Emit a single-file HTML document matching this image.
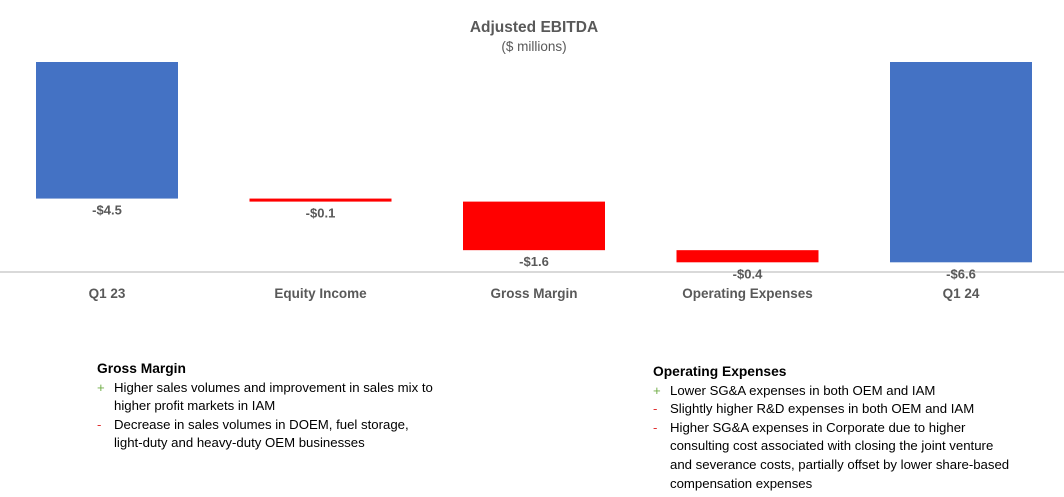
<!DOCTYPE html>
<html><head><meta charset="utf-8"><style>
body{margin:0;width:1064px;height:497px;background:#fff;position:relative;overflow:hidden;font-family:"Liberation Sans",sans-serif}
.note{position:absolute;font-size:13.2px;color:#000;line-height:18.6px;white-space:nowrap}
.note b{font-size:13.8px}
.row{position:relative;padding-left:17px}
.row span.m{position:absolute;left:0}
.plus{color:#70ad47}.minus{color:#e03030}
</style></head><body>
<svg id="chart" width="1064" height="320" style="position:absolute;left:0;top:0">
<text x="534" y="32" text-anchor="middle" font-family="Liberation Sans" font-weight="bold" font-size="15.5" fill="#595959">Adjusted EBITDA</text>
<text x="534" y="51" text-anchor="middle" font-family="Liberation Sans" font-size="13.5" fill="#595959">($ millions)</text>
<line x1="0" x2="1064" y1="272" y2="272" stroke="#d9d9d9" stroke-width="2"/>
<g id="bars"></g>
</svg>
<div class="note" style="left:97px;top:360px">
<b>Gross Margin</b>
<div class="row"><span class="m plus">+</span>Higher sales volumes and improvement in sales mix to<br>higher profit markets in IAM</div>
<div class="row"><span class="m minus">-</span>Decrease in sales volumes in DOEM, fuel storage,<br>light-duty and heavy-duty OEM businesses</div>
</div>
<div class="note" style="left:653px;top:363px">
<b>Operating Expenses</b>
<div class="row"><span class="m plus">+</span>Lower SG&amp;A expenses in both OEM and IAM</div>
<div class="row"><span class="m minus">-</span>Slightly higher R&amp;D expenses in both OEM and IAM</div>
<div class="row"><span class="m minus">-</span>Higher SG&amp;A expenses in Corporate due to higher<br>consulting cost associated with closing the joint venture<br>and severance costs, partially offset by lower share-based<br>compensation expenses</div>
</div>
<script>
const categories=["Q1 23","Equity Income","Gross Margin","Operating Expenses","Q1 24"];
const values=[-4.5,-0.1,-1.6,-0.4,-6.6];
const isTotal=[true,false,false,false,true];
const valueLabels=["-$4.5","-$0.1","-$1.6","-$0.4","-$6.6"];
const NS="http://www.w3.org/2000/svg";
const g=document.getElementById('bars');
const y0=62,scale=30.35,x0=107,step=213.5,bw=142;
function yS(v){return y0-v*scale;}
function xS(i){return x0+i*step;}
let cum=0;
values.forEach((v,i)=>{
  let top,bot;
  if(isTotal[i]){top=yS(0);bot=yS(v);cum=v;}
  else{top=yS(cum);cum+=v;bot=yS(cum);}
  const r=document.createElementNS(NS,'rect');
  
  
  r.setAttribute('x',xS(i)-bw/2);r.setAttribute('y',Math.min(top,bot));
  r.setAttribute('width',bw);r.setAttribute('height',Math.max(2,Math.abs(bot-top)));
  r.setAttribute('fill',isTotal[i]?'#4472c4':'#ff0000');
  g.appendChild(r);
  const t=document.createElementNS(NS,'text');
  
  
  t.setAttribute('x',xS(i));t.setAttribute('y',Math.max(top,bot)+16);
  t.setAttribute('text-anchor','middle');t.setAttribute('font-size','13');t.setAttribute('font-weight','bold');
  t.setAttribute('fill','#595959');t.setAttribute('font-family','Liberation Sans');
  t.textContent=valueLabels[i];g.appendChild(t);
  const c=document.createElementNS(NS,'text');
  
  
  c.setAttribute('x',xS(i));c.setAttribute('y',298);
  c.setAttribute('text-anchor','middle');c.setAttribute('font-size','13.5');c.setAttribute('font-weight','bold');
  c.setAttribute('fill','#595959');c.setAttribute('font-family','Liberation Sans');
  c.textContent=categories[i];g.appendChild(c);
});
</script>
</body></html>
